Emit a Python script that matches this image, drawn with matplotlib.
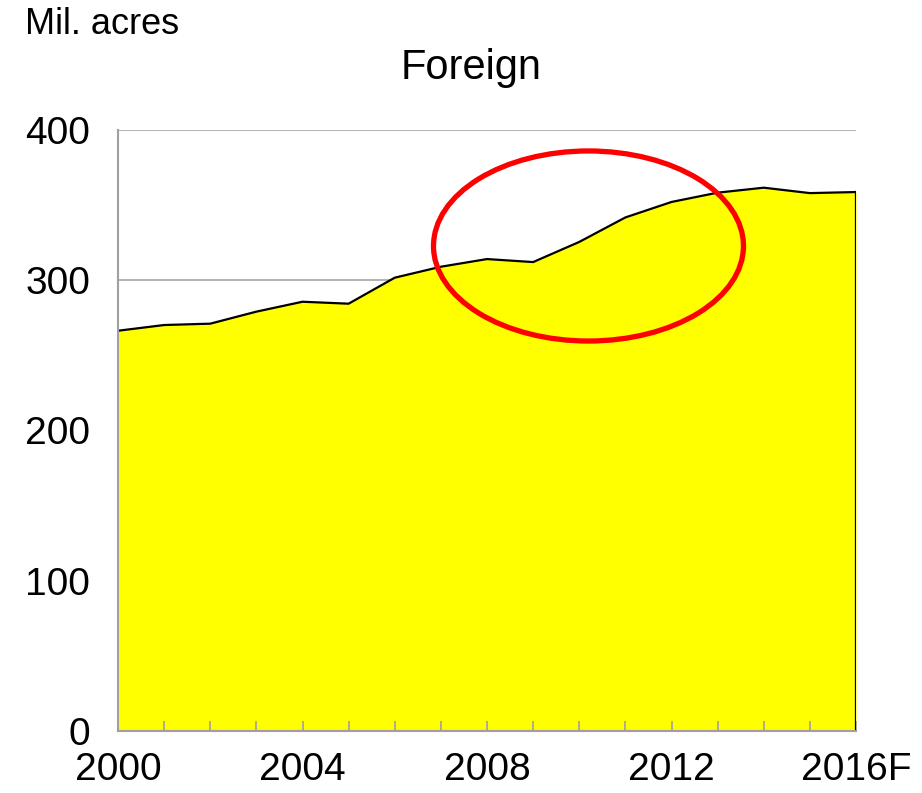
import matplotlib.pyplot as plt
from matplotlib.patches import Ellipse

plt.rcParams['font.family'] = ['Liberation Sans', 'DejaVu Sans']

# foreign area, million acres
years = list(range(2000, 2017))
acres = [266.4, 270.2, 271.1, 279.1, 285.7, 284.4, 301.7, 309.0, 314.1,
         312.1, 325.5, 341.8, 352.1, 358.3, 361.6, 358.0, 358.7]
tick_years = [2000, 2004, 2008, 2012, 2016]
tick_labels = ['2000', '2004', '2008', '2012', '2016F']
y_ticks = [0, 100, 200, 300, 400]

fig = plt.figure(figsize=(9.22, 7.93), dpi=100)
ax = fig.add_axes([118/922, 62/793, 738/922, 601/793])

for v in y_ticks[1:]:
    ax.axhline(v, color='#A6A6A6', linewidth=1.2, zorder=1)
ax.fill_between(years, acres, 0, color='#FFFF00', linewidth=0, zorder=2)
ax.plot(years, acres, color='black', linewidth=1.6, zorder=3)
ax.plot([years[-1], years[-1]], [0, acres[-1]], color='black', linewidth=1.6, zorder=3)

# highlight circle
ax.add_patch(Ellipse((2010.2, 322.8), 6.72, 126.5, fill=False,
                     edgecolor='#FF0000', linewidth=3.8, zorder=4))

ax.set_xlim(2000, 2016)
ax.set_ylim(0, 400)
ax.set_yticks(y_ticks)
ax.set_xticks(tick_years)
ax.set_xticklabels(tick_labels)
ax.set_xticks(years, minor=True)
ax.set_axisbelow(False)
ax.tick_params(axis='x', which='both', direction='in', length=7, color='#A0A0A0',
               width=1.2, labelsize=28, pad=15)
ax.tick_params(axis='y', length=0, labelsize=28, pad=20)
for s in ['top', 'right']:
    ax.spines[s].set_visible(False)
for s in ['left', 'bottom']:
    ax.spines[s].set_color('#A0A0A0')
    ax.spines[s].set_linewidth(1.5)
    ax.spines[s].set_zorder(5)

fig.text(25/922, 1 - 24/793, 'Mil. acres', fontsize=26, va='center', ha='left')
fig.text(471/922, 1 - 68/793, 'Foreign', fontsize=30, va='center', ha='center')

fig.savefig('out.png', dpi=100)
